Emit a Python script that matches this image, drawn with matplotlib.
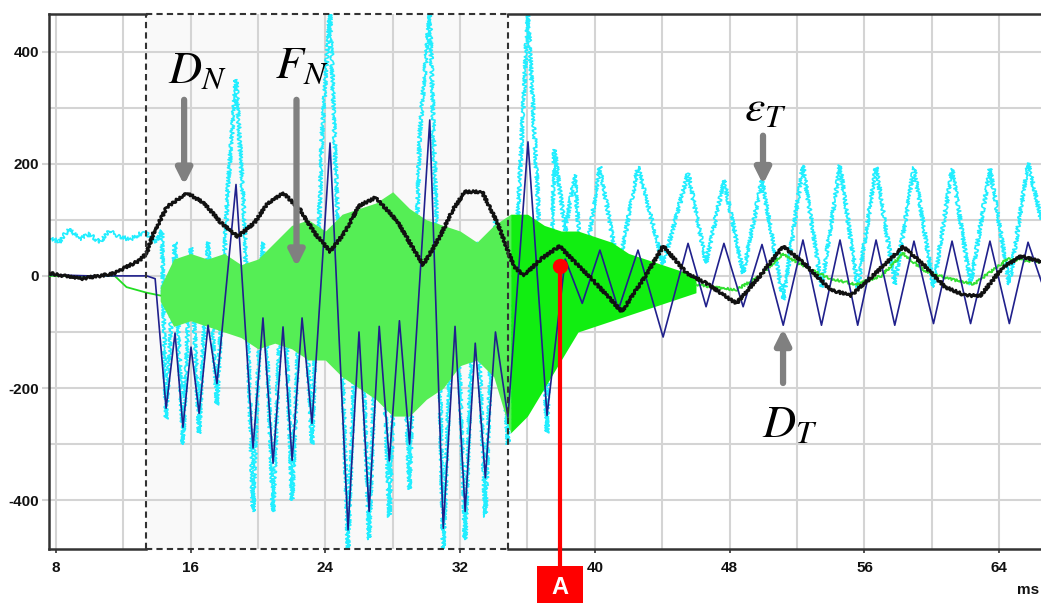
import matplotlib
matplotlib.use("Agg")
import matplotlib.pyplot as plt
from matplotlib.patches import Rectangle

# ---------------- data ----------------
x_ticks = [8, 16, 24, 32, 40, 48, 56, 64]
y_ticks = [-400, -200, 0, 200, 400]
x_tick_labels = ["8", "16", "24", "32", "40", "48", "56", "64"]
y_tick_labels = ["-400", "-200", "0", "200", "400"]

# D_N (black)
dn_x = [7.6, 8.5, 9.5, 10.6, 11.5, 12.2, 13.0, 13.4, 13.8, 14.6,
        15.8, 16.8, 17.8, 18.8, 19.8, 20.6, 21.5, 22.5, 23.4, 24.3,
        25.2, 26.0, 27.0, 28.3, 29.0, 29.8, 30.8, 31.6, 32.3, 33.3,
        34.2, 35.2, 35.8, 36.8, 37.9, 38.8, 39.9, 41.6, 43.0, 44.06,
        45.45, 46.6, 48.4, 49.8, 51.17, 52.5, 54.0, 55.2, 56.5, 58.3,
        59.5, 60.8, 62.0, 62.9, 64.2, 65.3, 66.5]
dn_y = [5, 0, -5, 0, 5, 16, 28, 41, 76, 123,
        148, 130, 95, 70, 95, 130, 148, 118, 75, 43,
        80, 125, 140, 96, 60, 19, 70, 120, 150, 150,
        96, 16, 1, 30, 53, 25, -8, -64, 0, 53,
        5, -13, -49, 0, 53, 20, -25, -35, 0, 52,
        20, -20, -35, -35, 15, 35, 25]

# D_T (navy)
dt_x = [7.6, 10.0, 12.0, 13.4, 13.9, 14.55, 15.08, 15.55, 16.03, 16.51,
        17.04, 17.57, 18.70, 19.71, 20.30, 20.90, 21.49, 22.03, 22.62, 23.21,
        24.28, 25.35, 26.0, 26.6, 27.2, 27.8, 28.4, 29.0, 30.2, 31.0,
        31.7, 32.3, 32.9, 33.5, 34.1, 34.84, 36.03, 37.16, 38.24, 39.25,
        40.30, 41.4, 42.56, 44.05, 45.53, 46.6, 47.66, 48.8, 49.92, 51.18,
        52.35, 53.45, 54.55, 55.6, 56.69, 57.8, 58.94, 60.1, 61.20, 62.3,
        63.45, 64.6, 65.71, 66.5]
dt_y = [2, 0, 0, 0, -5, -236, -102, -270, -127, -245,
        -88, -192, 163, -307, -75, -334, -91, -329, -75, -263,
        237, -453, -100, -420, -90, -330, -80, -300, 278, -450,
        -90, -420, -120, -360, -100, -252, 239, -249, 30, -49,
        46, -60, 46, -109, 58, -55, 58, -55, 56, -88,
        64, -88, 64, -88, 64, -88, 62, -85, 62, -85,
        62, -85, 60, -10]

# eps_T (cyan)
et_x = [7.6, 8.2, 8.8, 9.4, 10.0, 10.6, 11.2, 11.8, 12.4, 13.0,
        13.4, 13.9, 14.3, 14.55, 15.08, 15.55, 16.03, 16.51, 17.04, 17.57,
        18.2, 18.70, 19.2, 19.71, 20.30, 20.90, 21.49, 22.03, 22.62, 23.21,
        23.8, 24.28, 24.8, 25.35, 26.0, 26.6, 27.2, 27.8, 28.4, 29.0,
        29.6, 30.2, 30.6, 31.0, 31.7, 32.3, 32.9, 33.5, 34.1, 34.84,
        35.5, 36.03, 36.6, 37.16, 37.6, 38.24, 38.8, 39.25, 40.30, 41.4,
        42.56, 44.05, 45.53, 46.6, 47.66, 48.8, 49.92, 51.18, 52.35, 53.45,
        54.55, 55.6, 56.69, 57.8, 58.94, 60.1, 61.20, 62.3, 63.45, 64.6,
        65.71, 66.5]
et_y = [70, 60, 85, 65, 75, 60, 80, 70, 65, 75,
        75, 60, 80, -255, 60, -300, 50, -280, 60, -230,
        150, 350, 100, -420, 60, -420, 60, -400, 60, -300,
        250, 470, 50, -487, 80, -470, 80, -430, 100, -380,
        250, 470, 100, -487, 80, -470, 60, -430, 100, -300,
        150, 470, 150, -280, 225, 80, 180, -8, 195, 10,
        195, 20, 183, 23, 171, 5, 171, -43, 197, -20,
        197, -20, 194, -15, 194, -20, 191, -15, 191, -15,
        201, 100]

# F_N (green): quiet line, noisy band envelopes, late tail
fn_line_x = [7.6, 11.5, 12.2, 13.4, 14.2]
fn_line_y = [0, 0, -20, -30, -35]
fn_band_x = [14.2, 15, 16, 17, 18, 19, 20, 21, 22, 23,
             24, 25, 26, 27, 28, 29, 30, 31, 32, 33,
             34, 35, 36, 37, 38, 39, 40, 41, 42, 43,
             44, 45, 46]
fn_band_hi = [-20, 30, 40, 30, 40, 20, 30, 60, 90, 100,
              80, 110, 120, 130, 150, 120, 100, 90, 80, 60,
              90, 110, 110, 90, 80, 80, 70, 60, 40, 30,
              20, 10, 0]
fn_band_lo = [-45, -90, -80, -90, -100, -110, -130, -120, -130, -150,
              -150, -180, -200, -220, -250, -250, -220, -200, -160, -150,
              -180, -280, -250, -200, -150, -100, -90, -80, -70, -60,
              -50, -40, -30]
fn_tail_x = [46, 47, 48.4, 49.8, 51.17, 52.5, 54, 55.5, 57, 58.3, 59.5, 61, 62.5, 64.5, 66.5]
fn_tail_y = [-15, -20, -25, 0, 40, 15, -5, -15, 0, 40, 10, -5, -15, 30, 25]

box_x0, box_x1 = 13.36, 34.84
marker_x, marker_y = 37.93, 18

# ---------------- figure ----------------
W, H = 1041, 603
XMIN, XMAX, YMIN, YMAX = 7.6, 66.48, -487, 467
plt.rcParams["mathtext.fontset"] = "stix"
fig = plt.figure(figsize=(W / 100, H / 100), dpi=100)
ax = fig.add_axes([49 / W, (H - 549) / H, (W - 49) / W, (549 - 14) / H])
ax.set_xlim(XMIN, XMAX)
ax.set_ylim(YMIN, YMAX)

ax.add_patch(Rectangle((box_x0, YMIN), box_x1 - box_x0, YMAX - YMIN, facecolor="#f9f9f9",
                       edgecolor="none", zorder=0))

ax.set_xticks(x_ticks)
ax.set_xticklabels(x_tick_labels)
ax.set_yticks(y_ticks)
ax.set_yticklabels(y_tick_labels)
ax.set_xticks([12, 20, 28, 36, 44, 52, 60], minor=True)
ax.set_yticks([-300, -100, 100, 300], minor=True)
ax.grid(True, which="both", color="#d4d4d4", lw=1.5)
ax.set_axisbelow(True)
ax.tick_params(axis="both", which="minor", length=0)
ax.tick_params(axis="x", which="major", length=3, width=1.2, color="#333", pad=6)
ax.tick_params(axis="y", which="major", length=5, width=1.5, color="#d4d4d4", pad=2)
for lab in ax.get_xticklabels() + ax.get_yticklabels():
    lab.set_fontfamily("Liberation Sans")
    lab.set_fontweight("bold")
    lab.set_fontsize(11)
    lab.set_color("#111111")

for s in ["top", "right", "bottom"]:
    ax.spines[s].set_visible(False)
ax.spines["left"].set_color("#333333")
ax.spines["left"].set_linewidth(1.8)

# top/bottom borders: solid outside the box, dashed along it
tr = ax.get_xaxis_transform()
for yy in (0, 1):
    ax.plot([XMIN, box_x0], [yy, yy], transform=tr, color="#333", lw=1.8, clip_on=False, zorder=6)
    ax.plot([box_x1, XMAX], [yy, yy], transform=tr, color="#333", lw=1.8, clip_on=False, zorder=6)
    ax.plot([box_x0, box_x1], [yy, yy], transform=tr, color="#333", lw=1.5, ls=(0, (3, 2)),
            clip_on=False, zorder=6)
for xx in (box_x0, box_x1):
    ax.plot([xx, xx], [0, 1], transform=tr, color="#333", lw=1.5, ls=(0, (3, 2)), zorder=6)

# series (light sketch params give the recorded-signal texture)
l_et, = ax.plot(et_x, et_y, color="#22eeff", lw=1.2, zorder=2)
l_et.set_sketch_params(scale=2.0, length=2, randomness=3)
i35 = fn_band_x.index(35)
b1 = ax.fill_between(fn_band_x[:i35 + 1], fn_band_lo[:i35 + 1], fn_band_hi[:i35 + 1],
                     color="#55ee55", lw=0, zorder=3)
b2 = ax.fill_between(fn_band_x[i35:], fn_band_lo[i35:], fn_band_hi[i35:],
                     color="#11ee11", lw=0, zorder=3)
for b in (b1, b2):
    b.set_sketch_params(scale=6, length=2, randomness=3)
ax.plot(fn_line_x, fn_line_y, color="#22dd22", lw=1.3, zorder=3)
l_ft, = ax.plot(fn_tail_x, fn_tail_y, color="#33e033", lw=1.3, zorder=3)
l_ft.set_sketch_params(scale=1.2, length=3, randomness=3)
ax.plot(dt_x, dt_y, color="#20208c", lw=1.2, zorder=4)
l_dn, = ax.plot(dn_x, dn_y, color="#111111", lw=2.0, zorder=5)
l_dn.set_sketch_params(scale=1.3, length=4, randomness=2)

# marker A
ax.plot([marker_x, marker_x], [marker_y, YMIN], color="#ff0000", lw=3, zorder=7)
ax.plot([marker_x], [marker_y], "o", color="#ff0000", ms=10, zorder=7)
ax.plot([marker_x, marker_x], [YMIN, YMIN - 30], color="#ff0000", lw=3, zorder=7, clip_on=False)
px_A = 49 + (marker_x - XMIN) / (XMAX - XMIN) * (W - 49)
fig.patches.append(Rectangle(((px_A - 23) / W, 0), 46 / W, 37 / H, facecolor="#ff0000",
                             edgecolor="none", transform=fig.transFigure, figure=fig))
fig.text(px_A / W, 16 / H, "A", color="white", fontsize=17, fontweight="bold",
         ha="center", va="center", family="Liberation Sans")
fig.text(1039 / W, 13 / H, "ms", fontsize=11, fontweight="bold", ha="right", va="center",
         family="Liberation Sans", color="#111")

# annotations
lab_kw = dict(fontsize=33, color="black", ha="center", va="center", zorder=8)
ax.text(16.4, 367, r"$D_N$", **lab_kw)
ax.text(22.6, 376, r"$F_N$", **lab_kw)
ax.text(50.1, 299, r"$\varepsilon_T$", **lab_kw)
ax.text(51.6, -265, r"$D_T$", **lab_kw)


def arrow(x, y0, y1):
    ax.annotate("", xy=(x, y1), xytext=(x, y0),
                arrowprops=dict(arrowstyle="-|>,head_length=0.9,head_width=0.45",
                                color="#808080", lw=4.5, shrinkA=0, shrinkB=0), zorder=8)


arrow(15.62, 314, 162)
arrow(22.29, 314, 16)
arrow(49.98, 250, 163)
arrow(51.17, -191, -94)

fig.savefig("out.png", dpi=100)
